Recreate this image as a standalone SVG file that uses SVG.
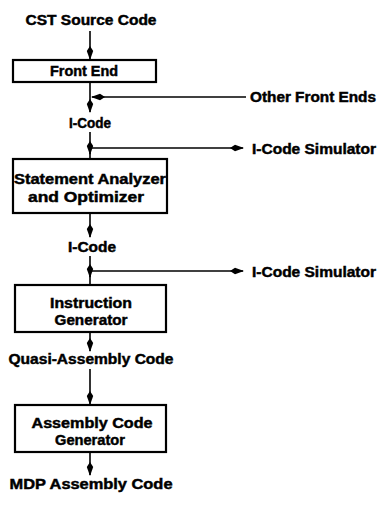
<svg xmlns="http://www.w3.org/2000/svg" width="378" height="507" viewBox="0 0 378 507">
  <style>
    .box { fill: #ffffff; stroke: #000000; stroke-width: 2.2; }
    .ln { fill: none; stroke: #000000; stroke-width: 1.6; }
    .t, .tl { font-family: "Liberation Sans", Arial, sans-serif; font-weight: bold; font-size: 14px; fill: #000000; stroke: #000000; stroke-width: 0.45; }
    .t { text-anchor: middle; }
    .tl { text-anchor: start; }
  </style>
  <defs>
    <marker id="arrow" viewBox="0 0 14 8" refX="13" refY="4" markerWidth="14" markerHeight="8" markerUnits="userSpaceOnUse" orient="auto">
      <path d="M0,4 L5,0.8 L14,4 L5,7.2 Z" fill="#000000"/>
    </marker>
  </defs>

  <rect width="378" height="507" fill="#ffffff"/>

  <!-- connectors -->
  <g id="connectors">
    <line class="ln" x1="90" y1="31" x2="90" y2="59" marker-end="url(#arrow)"/>
    <line class="ln" x1="90" y1="82" x2="90" y2="112" marker-end="url(#arrow)"/>
    <line class="ln" x1="246" y1="97" x2="92" y2="97" marker-end="url(#arrow)"/>
    <line class="ln" x1="90" y1="132" x2="90" y2="154" marker-end="url(#arrow)"/>
    <line class="ln" x1="90" y1="152" x2="90" y2="159"/>
    <line class="ln" x1="90" y1="148" x2="243" y2="148" marker-end="url(#arrow)"/>
    <line class="ln" x1="90" y1="213" x2="90" y2="237" marker-end="url(#arrow)"/>
    <line class="ln" x1="90" y1="256" x2="90" y2="277" marker-end="url(#arrow)"/>
    <line class="ln" x1="90" y1="275" x2="90" y2="285"/>
    <line class="ln" x1="90" y1="271" x2="243" y2="271" marker-end="url(#arrow)"/>
    <line class="ln" x1="90" y1="332" x2="90" y2="351" marker-end="url(#arrow)"/>
    <line class="ln" x1="90" y1="369" x2="90" y2="404" marker-end="url(#arrow)"/>
    <line class="ln" x1="90" y1="452" x2="90" y2="475" marker-end="url(#arrow)"/>
  </g>

  <g id="source">
    <text class="t" x="91" y="25" textLength="131" lengthAdjust="spacingAndGlyphs">CST Source Code</text>
  </g>

  <g id="front-end">
    <rect class="box" x="13" y="60" width="143" height="22"/>
    <text class="t" x="84" y="76" textLength="68" lengthAdjust="spacingAndGlyphs">Front End</text>
  </g>

  <g id="other-front-ends">
    <text class="tl" x="250" y="102" textLength="126" lengthAdjust="spacingAndGlyphs">Other Front Ends</text>
  </g>

  <g id="icode-1">
    <text class="t" x="90" y="128" textLength="42" lengthAdjust="spacingAndGlyphs">I-Code</text>
  </g>

  <g id="simulator-1">
    <text class="tl" x="252" y="154" textLength="124" lengthAdjust="spacingAndGlyphs">I-Code Simulator</text>
  </g>

  <g id="analyzer">
    <rect class="box" x="13" y="159" width="154" height="54"/>
    <text class="t" x="90" y="184" textLength="152" lengthAdjust="spacingAndGlyphs">Statement Analyzer</text>
    <text class="t" x="86" y="202" textLength="116" lengthAdjust="spacingAndGlyphs">and Optimizer</text>
  </g>

  <g id="icode-2">
    <text class="t" x="92" y="252" textLength="48" lengthAdjust="spacingAndGlyphs">I-Code</text>
  </g>

  <g id="simulator-2">
    <text class="tl" x="252" y="277" textLength="124" lengthAdjust="spacingAndGlyphs">I-Code Simulator</text>
  </g>

  <g id="instruction-generator">
    <rect class="box" x="15" y="285" width="151" height="47"/>
    <text class="t" x="91" y="308" textLength="82" lengthAdjust="spacingAndGlyphs">Instruction</text>
    <text class="t" x="91" y="325" textLength="73" lengthAdjust="spacingAndGlyphs">Generator</text>
  </g>

  <g id="quasi-assembly">
    <text class="t" x="91" y="364" textLength="165" lengthAdjust="spacingAndGlyphs">Quasi-Assembly Code</text>
  </g>

  <g id="assembly-generator">
    <rect class="box" x="15" y="405" width="151" height="47"/>
    <text class="t" x="92" y="428" textLength="121" lengthAdjust="spacingAndGlyphs">Assembly Code</text>
    <text class="t" x="90" y="445" textLength="70" lengthAdjust="spacingAndGlyphs">Generator</text>
  </g>

  <g id="mdp-assembly">
    <text class="t" x="91" y="489" textLength="163" lengthAdjust="spacingAndGlyphs">MDP Assembly Code</text>
  </g>
</svg>
